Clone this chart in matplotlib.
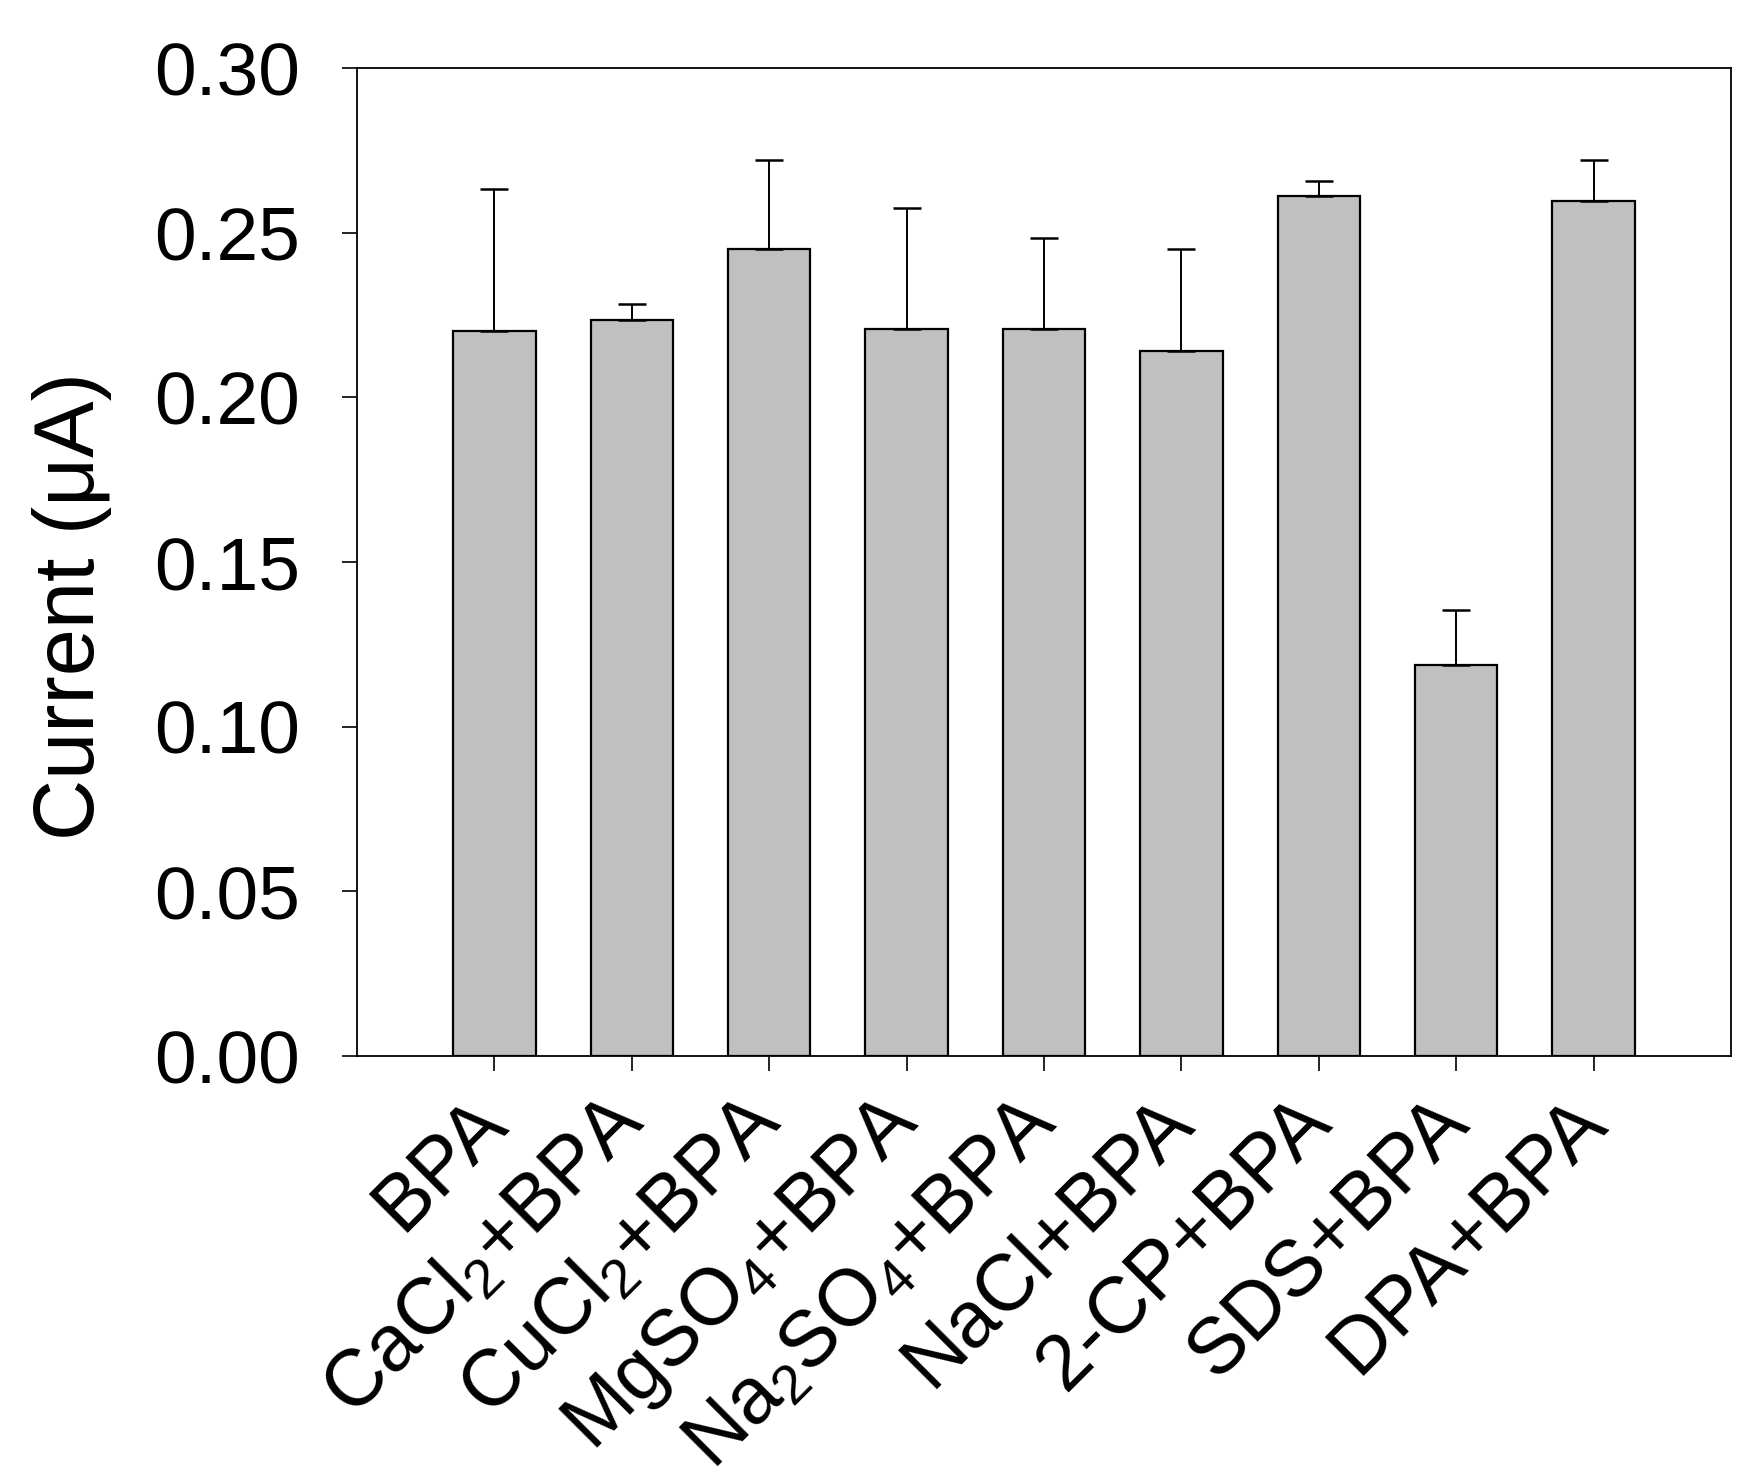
#!/usr/bin/env python3
"""Bar chart of peak current for BPA with interfering species."""

import matplotlib
matplotlib.use("Agg")
import matplotlib.pyplot as plt
import numpy as np

categories = [
    "BPA",
    r"CaCl$_2$+BPA",
    r"CuCl$_2$+BPA",
    r"MgSO$_4$+BPA",
    r"Na$_2$SO$_4$+BPA",
    "NaCl+BPA",
    "2-CP+BPA",
    "SDS+BPA",
    "DPA+BPA",
]
current = [0.2203, 0.2236, 0.2452, 0.2209, 0.2209, 0.2140, 0.2611, 0.1187, 0.2596]
error = [0.0429, 0.0049, 0.0269, 0.0366, 0.0276, 0.0311, 0.0047, 0.0167, 0.0125]
yticks = [0.00, 0.05, 0.10, 0.15, 0.20, 0.25, 0.30]


def main():
    plt.rcParams["font.family"] = ["Liberation Sans", "DejaVu Sans"]
    plt.rcParams["mathtext.fontset"] = "custom"
    plt.rcParams["mathtext.rm"] = "Liberation Sans"
    plt.rcParams["mathtext.it"] = "Liberation Sans:italic"
    plt.rcParams["mathtext.default"] = "regular"

    fig = plt.figure(figsize=(17.61, 14.82), dpi=100)
    ax = fig.add_axes([0.2027, 0.2874, 0.7803, 0.6667])

    x = np.arange(len(categories))
    ax.bar(
        x,
        current,
        width=0.6,
        color="#c0c0c0",
        edgecolor="black",
        linewidth=1.6,
        zorder=2,
    )
    ax.errorbar(
        x,
        current,
        yerr=[np.zeros(len(error)), error],
        fmt="none",
        ecolor="black",
        elinewidth=1.4,
        capsize=10,
        capthick=1.8,
        zorder=3,
    )

    ax.set_xlim(-1, 9)
    ax.set_ylim(0, 0.30)
    ax.set_yticks(yticks)
    ax.set_yticklabels([f"{v:.2f}" for v in yticks])
    ax.set_xticks(x)
    ax.set_xticklabels(
        categories, rotation=45, ha="right", va="center", rotation_mode="anchor"
    )

    ax.tick_params(axis="y", direction="out", length=11, width=1.2, labelsize=54, pad=30)
    ax.tick_params(axis="x", direction="out", length=11, width=1.2, labelsize=57, pad=28)
    ax.tick_params(top=False, right=False)
    for spine in ax.spines.values():
        spine.set_linewidth(1.3)

    ax.set_ylabel("Current (μA)", fontsize=61)
    ax.yaxis.set_label_coords(-0.178, 0.455)

    fig.savefig("out.png", dpi=100)


if __name__ == "__main__":
    main()
